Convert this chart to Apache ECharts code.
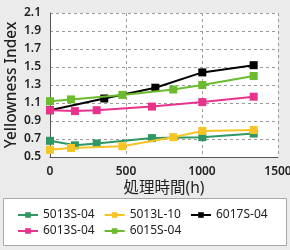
<!DOCTYPE html>
<html><head><meta charset="utf-8">
<script src="https://cdn.jsdelivr.net/npm/echarts@6/dist/echarts.min.js"></script>
<style>html,body{margin:0;padding:0;background:#ebebeb}#c{width:290px;height:250px}</style>
</head><body><div id="c"></div>
<script>
const seriesNames = ['5013S-04', '5013L-10', '6017S-04', '6013S-04', '6015S-04'];
const x5013S = [0, 164, 307, 671, 1002, 1340];
const y5013S = [0.68, 0.63, 0.65, 0.71, 0.72, 0.76];
const x5013L = [0, 138, 476, 811, 1002, 1340];
const y5013L = [0.58, 0.60, 0.62, 0.72, 0.79, 0.80];
const x6017S = [0, 357, 693, 1002, 1340];
const y6017S = [1.02, 1.15, 1.27, 1.44, 1.52];
const x6013S = [0, 164, 307, 671, 1002, 1340];
const y6013S = [1.02, 1.01, 1.02, 1.06, 1.11, 1.17];
const x6015S = [0, 138, 476, 811, 1002, 1340];
const y6015S = [1.12, 1.14, 1.19, 1.25, 1.30, 1.40];
const colors = ['#2f9763', '#f6c425', '#000000', '#e9328c', '#6cbb2e'];
const xs = [x5013S, x5013L, x6017S, x6013S, x6015S];
const ys = [y5013S, y5013L, y6017S, y6013S, y6015S];
const font = '"Noto Sans", "Noto Sans CJK JP", sans-serif';

const chart = echarts.init(document.getElementById('c'));
chart.setOption({
  backgroundColor: '#ebebeb',
  animation: false,
  graphic: [{
    type: 'rect', left: 3, top: 198, shape: {width: 283, height: 47},
    style: {fill: '#ffffff', stroke: '#a8a8a8', lineWidth: 1}, z: 0
  }],
  grid: {left: 50, right: 12, top: 13, bottom: 93, show: true, backgroundColor: '#fff', borderColor: 'transparent', containLabel: false, outerBoundsMode: 'none'},
  xAxis: {
    type: 'value', min: 0, max: 1500, interval: 500,
    name: '処理時間(h)', nameLocation: 'middle', nameGap: 24, nameMoveOverlap: false,
    nameTextStyle: {fontSize: 15.5, color: '#222', fontFamily: font},
    axisLine: {lineStyle: {color: '#555', width: 1}},
    axisTick: {show: false},
    axisLabel: {fontSize: 12, fontWeight: 600, color: '#222', fontFamily: font, margin: 9, formatter: v => String(v)},
    splitLine: {lineStyle: {type: [3, 3], color: '#9a9a9a'}}
  },
  yAxis: {
    type: 'value', min: 0.5, max: 2.1, interval: 0.2,
    name: 'Yellowness Index', nameLocation: 'middle', nameGap: 31, nameMoveOverlap: false,
    nameTextStyle: {fontSize: 15.5, fontWeight: 500, color: '#222', fontFamily: font},
    axisLine: {show: true, lineStyle: {color: '#555', width: 1}},
    axisTick: {show: false},
    axisLabel: {fontSize: 12, fontWeight: 600, color: '#222', fontFamily: font, margin: 9, formatter: v => v.toFixed(1)},
    splitLine: {lineStyle: {type: [3, 3], color: '#9a9a9a'}}
  },
  legend: [
    {data: seriesNames.slice(0, 3), left: 17, top: 209, width: 280, padding: 0, itemWidth: 20, itemHeight: 7, itemGap: 9,
     textStyle: {fontSize: 12, color: '#222', fontFamily: font}},
    {data: seriesNames.slice(3), left: 17, top: 225, width: 280, padding: 0, itemWidth: 20, itemHeight: 7, itemGap: 9,
     textStyle: {fontSize: 12, color: '#222', fontFamily: font}}
  ],
  series: seriesNames.map((n, i) => ({
    name: n, type: 'line', color: colors[i],
    data: xs[i].map((x, j) => [x, ys[i][j]]),
    symbol: 'rect', symbolSize: 8,
    lineStyle: {width: 2, color: colors[i]},
    itemStyle: {color: colors[i]},
    z: 2 + i
  }))
});
</script></body></html>
